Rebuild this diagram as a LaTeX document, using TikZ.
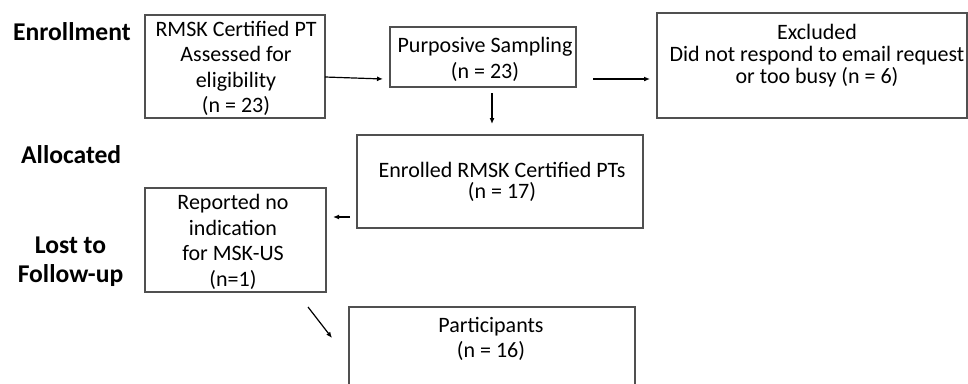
\documentclass[tikz,border=0pt]{standalone}
\usepackage{fontspec}
\setmainfont{Carlito}
\usetikzlibrary{arrows.meta}
\definecolor{boxgray}{HTML}{505050}
\newcommand\mlines[2]{\vtop{\baselineskip=#1\lineskiplimit=-100pt\lineskip=0pt\relax\halign{\hfil##\hfil\cr#2\crcr}}}
\begin{document}
\begin{tikzpicture}[x=1pt,y=-1pt,
  box/.style={draw=boxgray, line width=1.2pt, inner sep=0pt, outer sep=0pt, anchor=north west},
  txt/.style={inner sep=0pt, anchor=base, font=\fontsize{22}{26}\selectfont},
  lab/.style={inner sep=0pt, font=\fontsize{25.6}{29}\selectfont\bfseries},
  arr/.style={-{Latex[length=6pt,width=5pt]}, line width=1.2pt, black}]
\clip (0,0) rectangle (968,383);
\fill[white] (0,0) rectangle (968,383);
% labels
\node[lab, anchor=base west] (lenr) at (13,40) {Enrollment};
\node[lab, anchor=base west] (lall) at (21,163) {Allocated};
\node[lab, anchor=base] (llost) at (70.5,253) {\mlines{29pt}{Lost to\cr Follow-up}};
% boxes
\node[box, minimum width=180pt, minimum height=103pt] (b1) at (145,15) {};
\node[box, minimum width=186pt, minimum height=60pt] (b2) at (390,27) {};
\node[box, minimum width=310pt, minimum height=105pt] (b3) at (657,13) {};
\node[box, minimum width=286pt, minimum height=93pt] (b4) at (357,135) {};
\node[box, minimum width=181pt, minimum height=104pt] (b5) at (145,188) {};
\node[box, minimum width=286pt, minimum height=100pt] (b6) at (349,307) {};
% texts
\node[txt] (t1) at (236,36) {\mlines{25.5pt}{RMSK Certified PT\cr Assessed for\cr eligibility\cr (n = 23)}};
\node[txt] (t2) at (485,52) {\mlines{26pt}{Purposive Sampling\cr (n = 23)}};
\node[txt] (t3) at (817,39.3) {\mlines{22pt}{Excluded\cr Did not respond to email request\cr or too busy (n = 6)}};
\node[txt] (t4) at (502,177.3) {\mlines{21pt}{Enrolled RMSK Certified PTs\cr (n = 17)}};
\node[txt] (t5) at (233,209.3) {\mlines{25.8pt}{Reported no\cr indication\cr for MSK-US\cr (n=1)}};
\node[txt] (t6) at (491,332) {\mlines{25pt}{Participants\cr (n = 16)}};
% arrows
\draw[arr] ([yshift=-10.5pt]b1.east) -- ([xshift=-7pt,yshift=-22pt]b2.west);
\draw[arr] ([xshift=17pt,yshift=-22pt]b2.east) -- ([xshift=-7pt,yshift=-13.5pt]b3.west);
\draw[arr] ([xshift=9pt,yshift=-6pt]b2.south) -- ([xshift=-8pt,yshift=11pt]b4.north);
\draw[arr] ([xshift=-7pt,yshift=-35.5pt]b4.west) -- ([xshift=7pt,yshift=23pt]b5.east);
\draw[arr] ([xshift=72.5pt,yshift=-15pt]b5.south) -- ([xshift=-17pt,yshift=-31pt]b6.north west);
\end{tikzpicture}
\end{document}
